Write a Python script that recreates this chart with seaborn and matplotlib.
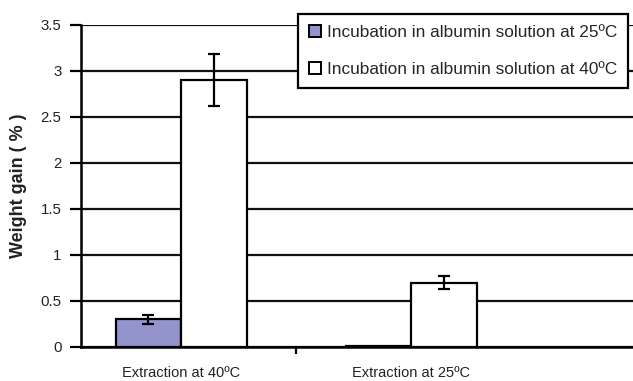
import pandas as pd
import matplotlib
matplotlib.use("Agg")
import matplotlib.pyplot as plt
import seaborn as sns

# Chart data
extraction = ["Extraction at 40ºC", "Extraction at 25ºC"]
incubation = ["Incubation in albumin solution at 25ºC",
              "Incubation in albumin solution at 40ºC"]
gain_25 = [0.30, 0.015]
gain_40 = [2.90, 0.70]
err_25 = [0.045, 0.0]
err_40 = [0.28, 0.07]
y_ticks = [0, 0.5, 1, 1.5, 2, 2.5, 3, 3.5]
y_tick_labels = ["0", "0.5", "1", "1.5", "2", "2.5", "3", "3.5"]

sns.set_style("white")
plt.rcParams["font.family"] = ["Liberation Sans", "DejaVu Sans"]

df = pd.DataFrame({
    "Extraction": extraction * 2,
    "Incubation": [incubation[0]] * 2 + [incubation[1]] * 2,
    "Gain": gain_25 + gain_40,
    "Err": err_25 + err_40,
})

fig = plt.figure(figsize=(6.33, 3.81), dpi=100)
ax = fig.add_axes([81 / 633, 34 / 381, 1 - 81 / 633, 322 / 381])

palette = {incubation[0]: "#9494CC", incubation[1]: "white"}
sns.barplot(data=df, x="Extraction", y="Gain", hue="Incubation",
            order=extraction, hue_order=incubation, palette=palette,
            width=0.57, errorbar=None, edgecolor="black", linewidth=1.6,
            saturation=1, ax=ax, zorder=3)

# error bars at bar centres
bars = [p for p in ax.patches if p.get_height() > 0 or p.get_width() > 0][:4]
for p in bars:
    cx = p.get_x() + p.get_width() / 2
    h = p.get_height()
    row = df[(df["Gain"] - h).abs() < 1e-9]
    if len(row) and row["Err"].iloc[0] > 0:
        ax.errorbar(cx, h, yerr=row["Err"].iloc[0], fmt="none", ecolor="black",
                    elinewidth=1.6, capsize=4, capthick=1.6, zorder=4)

ax.set_ylim(0, 3.5)
ax.set_xlim(-0.435, 1.965)
ax.set_yticks(y_ticks)
ax.set_yticklabels(y_tick_labels)
ax.yaxis.grid(True, color="#111111", linewidth=1.6)
ax.set_axisbelow(True)

ax.set_xticks([0, 1])
ax.set_xticklabels(extraction)
ax.set_xticks([0.5], minor=True)
ax.tick_params(axis="x", which="major", length=0, pad=14, labelsize=10.5,
               labelcolor="#222222")
ax.tick_params(axis="x", which="minor", length=5, width=1.6, color="black",
               direction="out", bottom=True)
ax.tick_params(axis="y", length=8, width=1.6, color="black", direction="out",
               left=True, pad=6, labelsize=10.8, labelcolor="#222222")

for side in ["top", "right"]:
    ax.spines[side].set_visible(False)
for side in ["left", "bottom"]:
    ax.spines[side].set_color("black")
    ax.spines[side].set_linewidth(1.8)

ax.set_xlabel("")
ax.set_ylabel("Weight gain ( % )", fontsize=13, fontweight="bold",
              color="#222222", labelpad=10)

leg = ax.legend(loc="upper right", bbox_to_anchor=(0.991, 1.034),
                borderaxespad=0, fontsize=12.4, frameon=True, fancybox=False,
                framealpha=1, edgecolor="black", handlelength=0.7,
                handleheight=0.7, handletextpad=0.3, labelspacing=1.25,
                borderpad=0.65)
leg.get_frame().set_linewidth(1.6)
for h in leg.legend_handles:
    h.set_edgecolor("black")
    h.set_linewidth(1.4)

fig.savefig("out.png", dpi=100)
